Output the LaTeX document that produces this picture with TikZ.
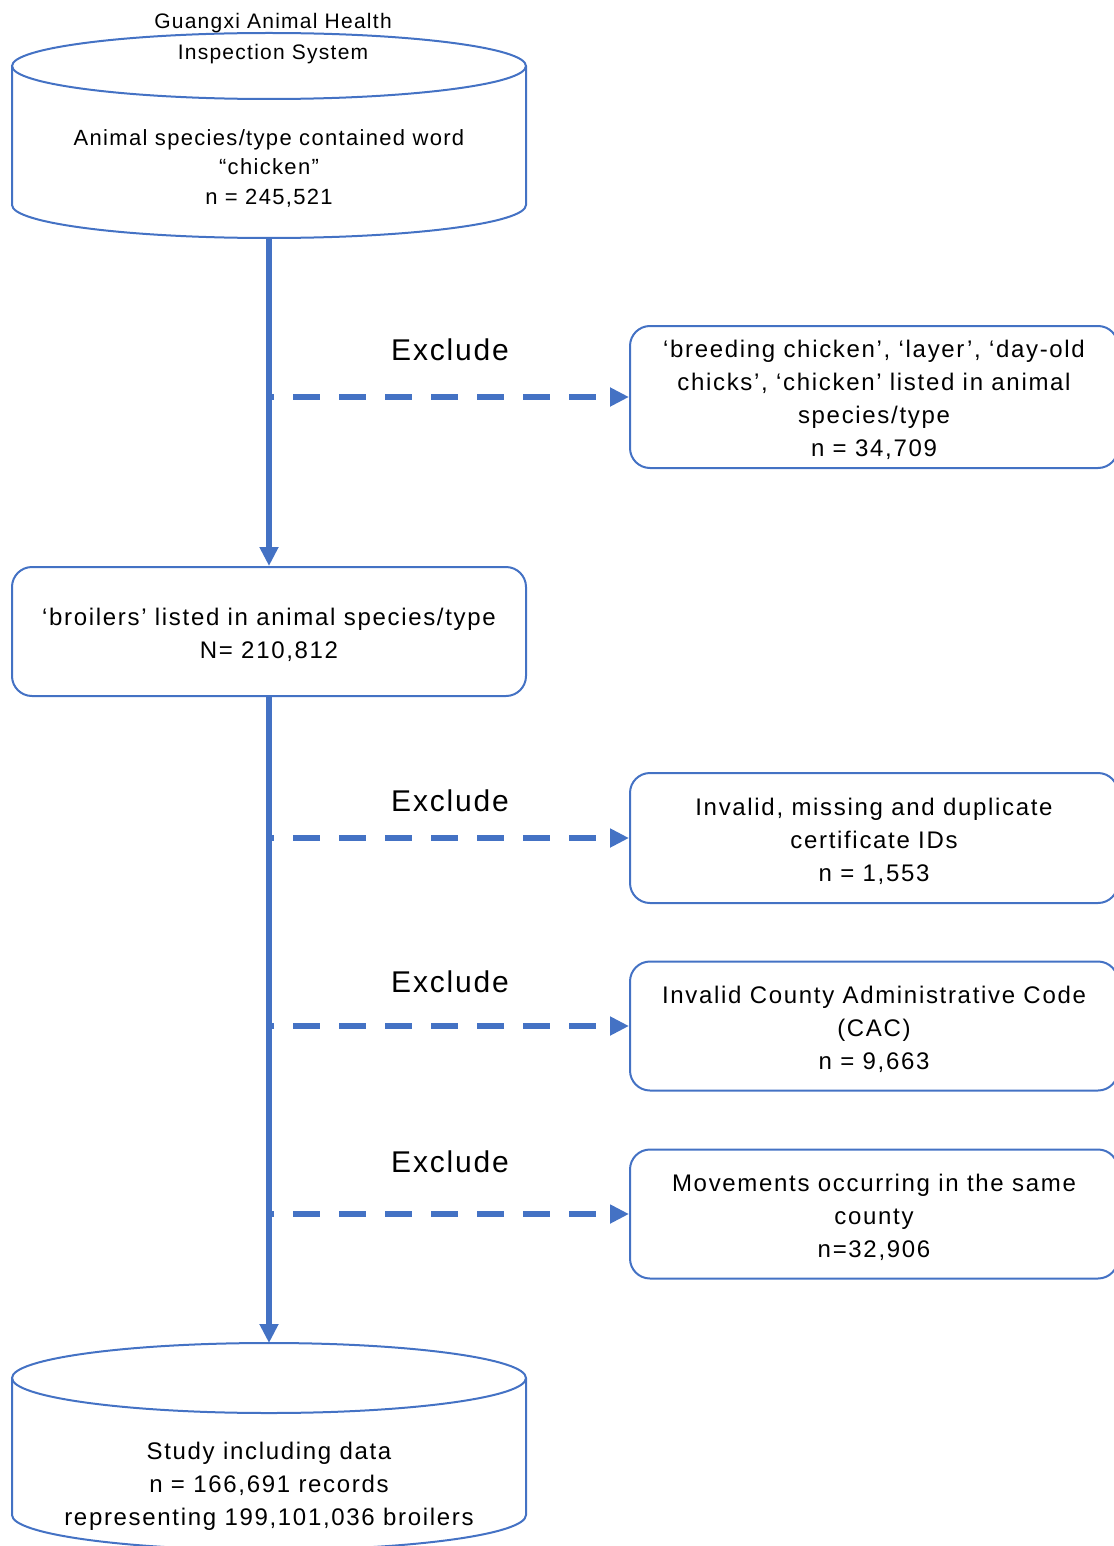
\documentclass[tikz,border=0pt]{standalone}
\usepackage{fontspec}
\setmainfont{Liberation Sans}
\newfontfamily\boxfont[LetterSpace=7]{Liberation Sans}
\newfontfamily\titlefont[LetterSpace=6]{Liberation Sans}
\newfontfamily\labelfont[LetterSpace=6]{Liberation Sans}
\usetikzlibrary{arrows.meta}
\definecolor{flowblue}{RGB}{68,114,196}
\tikzset{
  boxline/.style={draw=flowblue, line width=2pt},
  stagebox/.style={boxline, rounded corners=20pt, align=center, inner sep=0pt,
    font=\boxfont\fontsize{24pt}{33pt}\selectfont},
  bodytext/.style={align=center, inner sep=0pt, font=\boxfont\fontsize{24pt}{33pt}\selectfont},
  mainflow/.style={draw=flowblue, line width=5.5pt, -{Triangle[length=19pt,width=18pt]}},
  exflow/.style={draw=flowblue, line width=5.5pt, dash pattern=on 27pt off 19pt, dash phase=22pt,
    -{Triangle[length=19pt,width=18pt]}},
  exlabel/.style={inner sep=0pt, font=\labelfont\fontsize{30pt}{36pt}\selectfont},
}
\begin{document}
\begin{tikzpicture}[x=1pt,y=1pt]
\useasboundingbox (0,0) rectangle (1113,-1546);

% source database cylinder
\draw[boxline] (12,-66) -- (12,-205) arc[start angle=180,end angle=360,x radius=257pt,y radius=33pt] -- (526,-66);
\draw[boxline] (269,-66) ellipse[x radius=257pt,y radius=33pt];
\node[align=center, inner sep=0pt, font=\titlefont\fontsize{21pt}{31pt}\selectfont] (srctitle) at (273,-39)
  {Guangxi Animal Health\\Inspection System};
\node[align=center, inner sep=0pt, font=\labelfont\fontsize{22pt}{29.5pt}\selectfont] (src) at (269,-168)
  {Animal species/type contained word\\“chicken”\\n = 245,521};
\coordinate (srcbot) at (269,-238);

% broilers stage
\node[stagebox, minimum width=514pt, minimum height=129pt] (mid) at (269,-631.5)
  {\strut‘broilers’ listed in animal species/type\\N= 210,812};

% result database cylinder
\draw[boxline] (12,-1378) -- (12,-1515) arc[start angle=180,end angle=360,x radius=257pt,y radius=35pt] -- (526,-1378);
\draw[boxline] (269,-1378) ellipse[x radius=257pt,y radius=35pt];
\node[bodytext] (dst) at (269,-1486)
  {Study including data\\n = 166,691 records\\representing 199,101,036 broilers};
\coordinate (dsttop) at (269,-1343);

% exclusion boxes
\node[stagebox, minimum width=488pt, minimum height=142pt] (ex1) at (874,-397)
  {\strut‘breeding chicken’, ‘layer’, ‘day-old\\chicks’, ‘chicken’ listed in animal\\species/type\\n = 34,709};
\node[stagebox, minimum width=488pt, minimum height=130pt] (ex2) at (874,-838)
  {\strut Invalid, missing and duplicate\\certificate IDs\\n = 1,553};
\node[stagebox, minimum width=488pt, minimum height=129pt] (ex3) at (874,-1026)
  {\strut Invalid County Administrative Code\\(CAC)\\n = 9,663};
\node[stagebox, minimum width=488pt, minimum height=129pt] (ex4) at (874,-1214)
  {\strut Movements occurring in the same\\county\\n=32,906};

% main flow
\draw[mainflow] (srcbot) -- (mid.north);
\draw[mainflow] (mid.south) -- (dsttop);

% branch points and exclusion arrows
\coordinate (b1) at (269,-397);
\coordinate (b2) at (269,-838);
\coordinate (b3) at (269,-1026);
\coordinate (b4) at (269,-1214);
\draw[exflow] (b1) -- (ex1.west);
\draw[exflow] (b2) -- (ex2.west);
\draw[exflow] (b3) -- (ex3.west);
\draw[exflow] (b4) -- (ex4.west);

\node[exlabel] (x1) at (450,-350) {Exclude};
\node[exlabel] (x2) at (450,-801) {Exclude};
\node[exlabel] (x3) at (450,-982) {Exclude};
\node[exlabel] (x4) at (450,-1162) {Exclude};
\end{tikzpicture}
\end{document}
